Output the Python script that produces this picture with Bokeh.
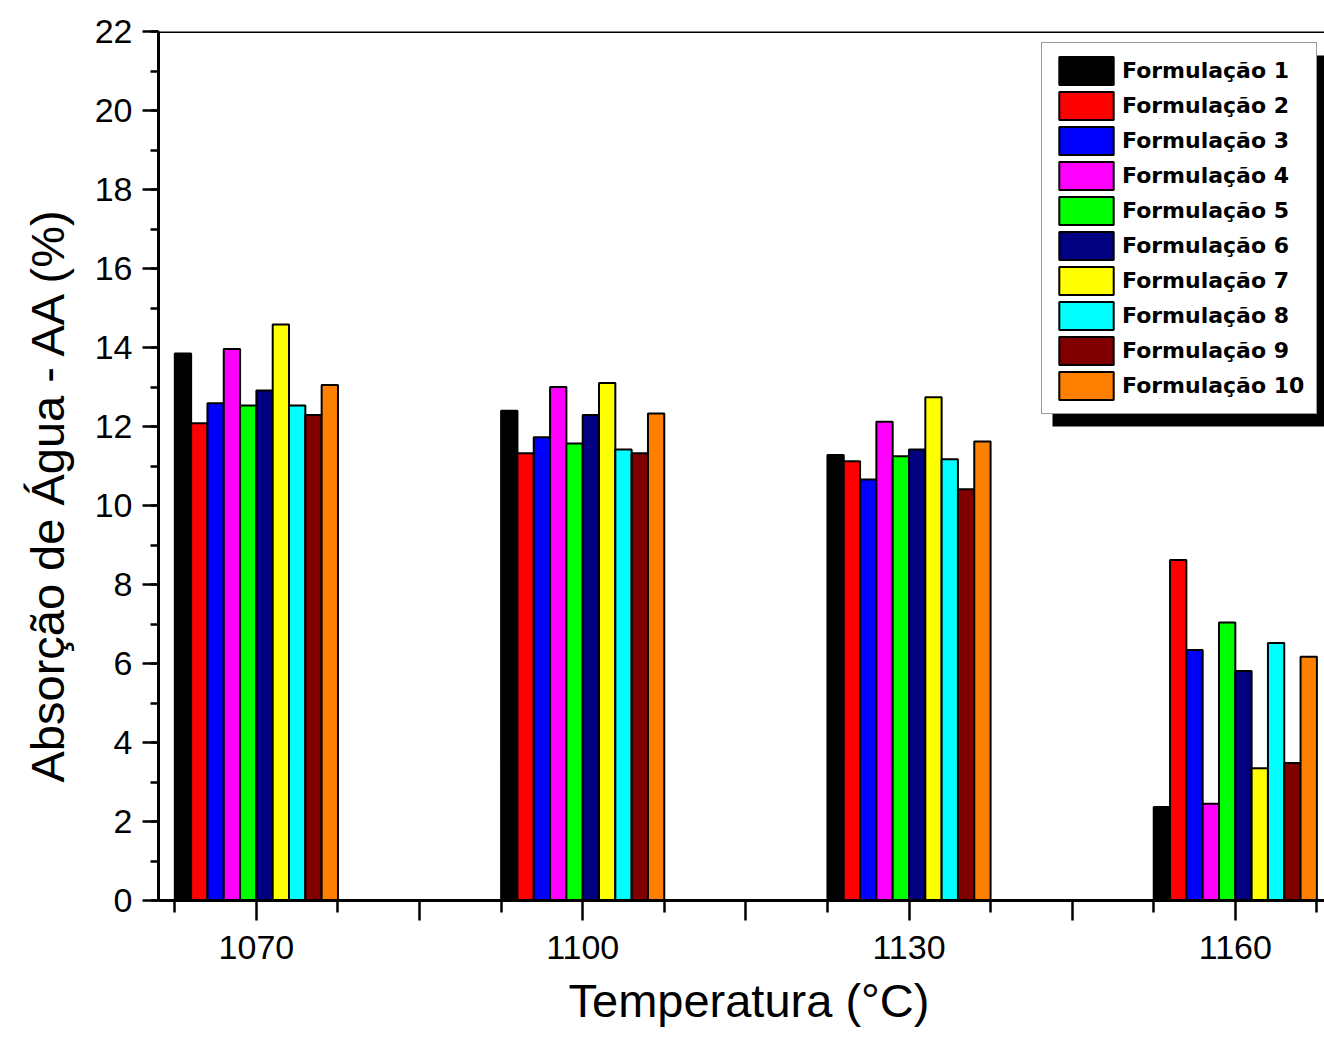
from bokeh.plotting import figure
from bokeh.models import (Range1d, FixedTicker, SingleIntervalTicker, Legend,
                          LegendItem, BoxAnnotation, Span, Title)
from bokeh.embed import file_html
from bokeh.resources import INLINE

# Firing temperatures (°C) and water absorption (%) for each formulation
temperaturas = [1070, 1100, 1130, 1160]
formulacao_1 = [13.85, 12.40, 11.28, 2.37]
formulacao_2 = [12.08, 11.32, 11.12, 8.62]
formulacao_3 = [12.59, 11.73, 10.66, 6.34]
formulacao_4 = [13.96, 13.00, 12.12, 2.45]
formulacao_5 = [12.53, 11.57, 11.25, 7.04]
formulacao_6 = [12.91, 12.29, 11.42, 5.81]
formulacao_7 = [14.58, 13.10, 12.74, 3.35]
formulacao_8 = [12.53, 11.42, 11.17, 6.52]
formulacao_9 = [12.29, 11.32, 10.41, 3.48]
formulacao_10 = [13.05, 12.33, 11.62, 6.17]

nomes = [f"Formulação {i}" for i in range(1, 11)]
series = [formulacao_1, formulacao_2, formulacao_3, formulacao_4, formulacao_5,
          formulacao_6, formulacao_7, formulacao_8, formulacao_9, formulacao_10]
cores = ["#000000", "#FF0000", "#0000FF", "#FF00FF", "#00FF00",
         "#000080", "#FFFF00", "#00FFFF", "#800000", "#FF8000"]

LARGURA_BARRA = 1.5
FONTE = "Liberation Sans"

p = figure(width=1324, height=1040, output_backend="svg", toolbar_location=None,
           x_range=Range1d(1061, 1168.2), y_range=Range1d(0, 22),
           min_border_left=158, min_border_right=0, min_border_top=31,
           min_border_bottom=140, background_fill_color="white",
           border_fill_color="white", outline_line_color=None)
p.xgrid.visible = False
p.ygrid.visible = False

renderers = []
for i, (valores, cor) in enumerate(zip(series, cores)):
    xs = [t + (i - 4.5) * LARGURA_BARRA for t in temperaturas]
    r = p.vbar(x=xs, top=valores, width=LARGURA_BARRA, bottom=0,
               fill_color=cor, line_color="black", line_width=2)
    renderers.append(r)

# top frame line
p.add_layout(Span(location=22, dimension="width", line_color="black", line_width=3))

# y axis
ya = p.yaxis[0]
ya.ticker = SingleIntervalTicker(interval=2, num_minor_ticks=2)
ya.major_label_text_font = FONTE
ya.major_label_text_font_size = "34px"
ya.major_label_text_color = "black"
ya.major_label_standoff = 10
ya.major_tick_out = 16
ya.major_tick_in = 0
ya.minor_tick_out = 8
ya.minor_tick_in = 0
ya.axis_line_width = 3
ya.major_tick_line_width = 2.5
ya.minor_tick_line_width = 2.5

# x axis
xa = p.xaxis[0]
xa.ticker = FixedTicker(ticks=[1070, 1085, 1100, 1115, 1130, 1145, 1160],
                        minor_ticks=[1062.5, 1077.5, 1092.5, 1107.5, 1122.5,
                                     1137.5, 1152.5, 1167.5])
xa.major_label_overrides = {1085: "", 1115: "", 1145: ""}
xa.major_label_text_font = FONTE
xa.major_label_text_font_size = "34px"
xa.major_label_text_color = "black"
xa.major_label_standoff = 15
xa.major_tick_out = 20
xa.major_tick_in = 0
xa.minor_tick_out = 12
xa.minor_tick_in = 0
xa.axis_line_width = 3
xa.major_tick_line_width = 2.5
xa.minor_tick_line_width = 2.5

# axis titles as side-panel titles, so they can be offset along the axis
p.add_layout(Title(text="Absorção de Água - AA (%)", align="left", offset=118,
                   standoff=36, text_font=FONTE, text_font_size="47px",
                   text_font_style="normal", text_color="black"), "left")
p.add_layout(Title(text="Temperatura (°C)", align="left", offset=410,
                   standoff=20, text_font=FONTE, text_font_size="47px",
                   text_font_style="normal", text_color="black"), "below")

# legend drop shadow
p.add_layout(BoxAnnotation(left=1052, right=1330, top=55, bottom=426,
                           left_units="canvas", right_units="canvas",
                           top_units="canvas", bottom_units="canvas",
                           fill_color="black", fill_alpha=1, line_alpha=0))

legend = Legend(items=[LegendItem(label=n, renderers=[r]) for n, r in zip(nomes, renderers)],
                location=(883, 486), padding=10, spacing=0,
                glyph_width=68, glyph_height=35, label_standoff=2, label_width=184,
                label_text_font="DejaVu Sans", label_text_font_style="bold",
                label_text_font_size="22px", label_text_color="black",
                border_line_color="#333333", border_line_width=1.5,
                background_fill_color="white", background_fill_alpha=1)
p.add_layout(legend)

open("out.html", "w").write(file_html(p, INLINE))
